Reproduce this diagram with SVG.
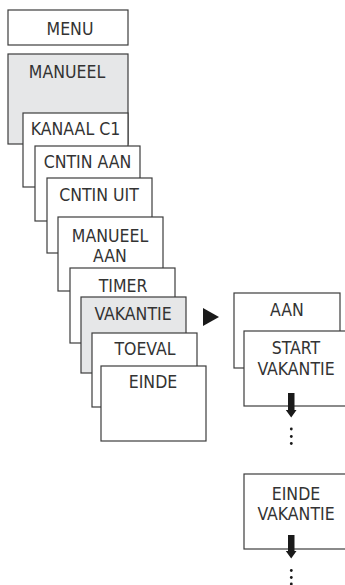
<svg xmlns="http://www.w3.org/2000/svg" width="345" height="585" viewBox="0 0 345 585">
<style>
.b{fill:#fff;stroke:#3c3c3c;stroke-width:1.2}
.g{fill:#e6e7e8;stroke:#3c3c3c;stroke-width:1.2}
text{font-family:"DejaVu Sans Condensed","DejaVu Sans",sans-serif;font-stretch:condensed;font-size:17.5px;fill:#333;text-anchor:middle}
.k{fill:#1a1a1a}
</style>
<rect width="345" height="585" fill="#fff"/>
<g id="menu"><rect class="b" x="8" y="10" width="120" height="35"/><text x="70" y="35">MENU</text></g>
<g id="manueel"><rect class="g" x="8" y="54" width="120" height="90"/><text x="67" y="78">MANUEEL</text></g>
<g id="kanaal"><rect class="b" x="23" y="113" width="105" height="74"/><text x="75.5" y="135">KANAAL C1</text></g>
<g id="cntin-aan"><rect class="b" x="35" y="146" width="105" height="75"/><text x="87.5" y="168">CNTIN AAN</text></g>
<g id="cntin-uit"><rect class="b" x="47" y="178" width="105" height="75"/><text x="99" y="201">CNTIN UIT</text></g>
<g id="manueel-aan"><rect class="b" x="58" y="217" width="105" height="74"/><text x="110" y="242">MANUEEL</text><text x="110" y="262">AAN</text></g>
<g id="timer"><rect class="b" x="70" y="268" width="105" height="75"/><text x="123" y="292">TIMER</text></g>
<g id="vakantie"><rect class="g" x="81" y="297" width="105" height="76"/><text x="133" y="320">VAKANTIE</text></g>
<g id="toeval"><rect class="b" x="92" y="333" width="105" height="74"/><text x="145" y="355">TOEVAL</text></g>
<g id="einde"><rect class="b" x="101" y="366" width="105" height="75"/><text x="153" y="388">EINDE</text></g>
<g id="aan"><rect class="b" x="234" y="293" width="106" height="75"/><text x="287" y="316">AAN</text></g>
<g id="start-vakantie"><rect class="b" x="244" y="331" width="106" height="75"/><text x="296" y="354">START</text><text x="296" y="375">VAKANTIE</text></g>
<g id="einde-vakantie"><rect class="b" x="244" y="474" width="106" height="75"/><text x="296" y="500">EINDE</text><text x="296" y="520">VAKANTIE</text></g>
<g id="connectors">
<path class="k" d="M203,308 L219,317 L203,326 Z"/>
<path class="k" d="M288,393 H294.5 V410 H296.5 L291.2,417.5 L285.8,410 H288 Z"/>
<circle class="k" cx="291.3" cy="429" r="1.4"/><circle class="k" cx="291.3" cy="436.5" r="1.4"/><circle class="k" cx="291.3" cy="443.5" r="1.4"/>
<path class="k" d="M288,535 H294.5 V551 H296.5 L291.2,558.5 L285.8,551 H288 Z"/>
<circle class="k" cx="291.3" cy="570.5" r="1.4"/><circle class="k" cx="291.3" cy="577.5" r="1.4"/><circle class="k" cx="291.3" cy="584" r="1.4"/>
</g>
</svg>
